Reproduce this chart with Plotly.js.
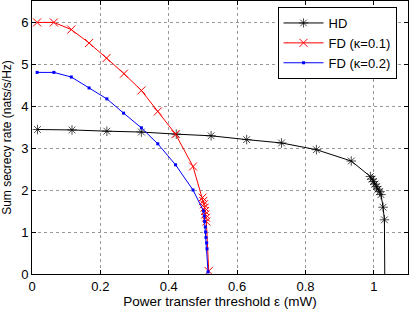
<!DOCTYPE html>
<html><head><meta charset="utf-8">
<script src="https://cdn.plot.ly/plotly-3.0.1.min.js"></script>
<style>html,body{margin:0;padding:0;background:#fff}#c{width:411px;height:313px}</style>
</head><body><div id="c"></div>
<script>
const hdX = [0.016,0.117,0.219,0.320,0.422,0.524,0.628,0.730,0.832,0.934,0.990,0.995,0.999,1.003,1.008,1.012,1.017,1.021,1.027,1.031,1.032];
const hdY = [3.44,3.43,3.40,3.38,3.33,3.29,3.20,3.12,2.96,2.69,2.32,2.26,2.20,2.14,2.08,2.02,1.96,1.89,1.59,1.29,0];
const fd1X = [0.015,0.064,0.115,0.167,0.218,0.269,0.320,0.368,0.420,0.471,0.499,0.501,0.503,0.505,0.506,0.507,0.509,0.510,0.517];
const fd1Y = [5.99,5.99,5.82,5.50,5.14,4.77,4.37,3.87,3.33,2.56,1.82,1.74,1.66,1.58,1.50,1.42,1.34,1.25,0.07];
const fd2X = [0.015,0.064,0.115,0.167,0.219,0.268,0.320,0.368,0.420,0.471,0.502,0.504,0.505,0.507,0.508,0.509,0.511,0.512,0.515];
const fd2Y = [4.80,4.80,4.69,4.43,4.17,3.83,3.48,3.10,2.60,2.00,1.50,1.38,1.25,1.12,1.00,0.87,0.74,0.60,0.05];
const names = ['HD','FD (κ=0.1)','FD (κ=0.2)'];

const hdSizes = hdX.map((_, i) => i === hdX.length - 1 ? 0 : 8);
const traces = [
  {x: hdX, y: hdY, name: names[0], mode: 'lines+markers', line: {color: '#000', width: 1},
   marker: {symbol: 'asterisk-open', size: hdSizes, color: '#000', line: {color: '#000', width: 1}}},
  {x: fd1X, y: fd1Y, name: names[1], mode: 'lines+markers', line: {color: '#ff0000', width: 1},
   marker: {symbol: 'x-thin-open', size: 8, color: '#ff0000', line: {color: '#ff0000', width: 1}}},
  {x: fd2X, y: fd2Y, name: names[2], mode: 'lines+markers', line: {color: '#0000ff', width: 1},
   marker: {symbol: 'square', size: 3, color: '#0000ff'}}
];
const fam = 'Liberation Sans, Arial, sans-serif';
const font = {family: fam, size: 12, color: '#000'};
const layout = {
  width: 411, height: 313,
  margin: {l: 32, r: 3, t: 1, b: 39},
  paper_bgcolor: '#fff', plot_bgcolor: '#fff',
  font: font,
  showlegend: true,
  legend: {x: 0.653, y: 0.978, xanchor: 'left', yanchor: 'top', bgcolor: '#fff',
           bordercolor: '#000', borderwidth: 1, font: {family: fam, size: 13, color: '#000'},
           itemwidth: 40, tracegroupgap: 0},
  xaxis: {range: [0, 1.1], dtick: 0.2, tick0: 0, ticks: 'inside', ticklen: 4, tickcolor: '#000',
          showline: true, linecolor: '#000', linewidth: 1, mirror: 'ticks',
          showgrid: true, gridcolor: '#999', griddash: 'dot', gridwidth: 1, zeroline: false,
          tickfont: {family: fam, size: 13, color: '#000'},
          title: {text: 'Power transfer threshold ε (mW)', font: {family: fam, size: 13.5, color: '#000'}, standoff: 3}},
  yaxis: {range: [0, 6.5], dtick: 1, tick0: 0, ticks: 'inside', ticklen: 4, tickcolor: '#000',
          showline: true, linecolor: '#000', linewidth: 1, mirror: 'ticks',
          showgrid: true, gridcolor: '#999', griddash: 'dot', gridwidth: 1, zeroline: false,
          tickfont: {family: fam, size: 13, color: '#000'},
          title: {text: 'Sum secrecy rate (nats/s/Hz)', font: font, standoff: 6}}
};
Plotly.newPlot('c', traces, layout, {displayModeBar: false, staticPlot: true});
</script></body></html>
